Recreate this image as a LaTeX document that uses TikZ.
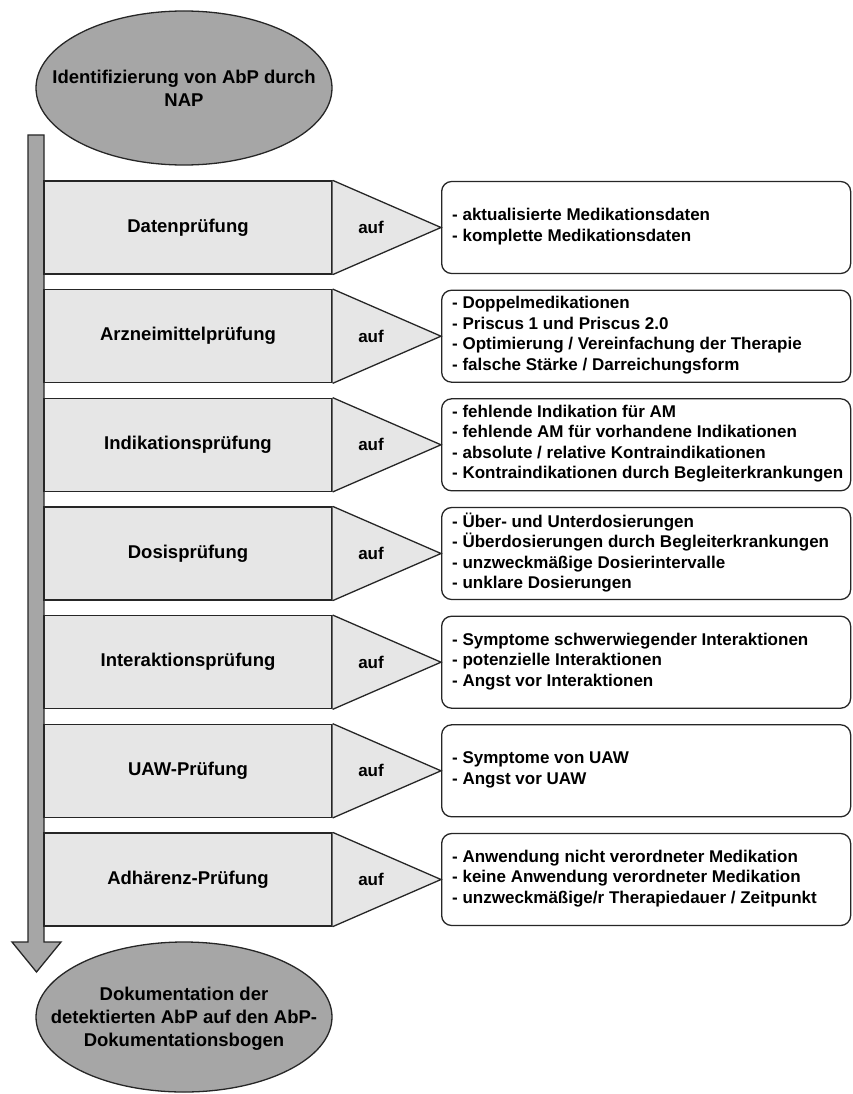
\documentclass[tikz,border=0pt]{standalone}
\usepackage{fontspec}
\setmainfont{Liberation Sans}
\definecolor{ellfill}{HTML}{A6A6A6}
\definecolor{rectfill}{HTML}{E6E6E6}
\definecolor{edge}{HTML}{262626}
\tikzset{
  base/.style={draw=edge, line width=1.3pt},
  elltext/.style={align=center, inner sep=0pt, font=\fontsize{18.5}{23}\selectfont\bfseries},
  steplabel/.style={base, rectangle, fill=rectfill, minimum width=288pt, minimum height=93pt, inner sep=0pt, font=\fontsize{18.5}{22}\selectfont\bfseries},
  auftext/.style={inner sep=0pt, font=\fontsize{17}{20}\selectfont\bfseries},
  listbox/.style={base, rounded corners=10pt, fill=white, minimum width=409pt, minimum height=92pt, inner sep=0pt, anchor=west},
  listtext/.style={align=left, anchor=west, inner sep=0pt, font=\fontsize{17}{20.5}\selectfont\bfseries},
  tri/.style={base, fill=rectfill, line join=miter},
}
\begin{document}
\begin{tikzpicture}[x=1pt,y=-1pt]
\useasboundingbox (0,0) rectangle (852,1094);
% vertical block arrow
\coordinate (atop) at (36,135);
\coordinate (atip) at (36.5,972);
\draw[base, fill=ellfill, line join=miter] (28,135) -- (44,135) -- (44,942) -- (61,942) -- (atip) -- (12,942) -- (28,942) -- cycle;
% top ellipse
\draw[base, fill=ellfill] (184,88) ellipse [x radius=148, y radius=77];
\node[elltext] (start) at (184,88) {Identifizierung von AbP durch\\NAP};
% bottom ellipse
\draw[base, fill=ellfill] (184,1017) ellipse [x radius=148, y radius=75];
\node[elltext] (ende) at (184,1019) {Dokumentation der\\detektierten AbP auf den AbP-\\Dokumentationsbogen};

% row 1
\node[steplabel] (r1) at (188,227.5) {Datenprüfung};
\node[listbox] (b1) at (441,227.5) {};
\node[listtext] (t1) at (452,226.5) {- aktualisierte Medikationsdaten\\- komplette Medikationsdaten};
\draw[tri] (r1.north east) -- (b1.west) -- (r1.south east);
\node[auftext] (a1) at (371,227.5) {auf};
% row 2
\node[steplabel] (r2) at (188,336.2) {Arzneimittelprüfung};
\node[listbox] (b2) at (441,336.2) {};
\node[listtext] (t2) at (452,335.2) {- Doppelmedikationen\\- Priscus 1 und Priscus 2.0\\- Optimierung / Vereinfachung der Therapie\\- falsche Stärke / Darreichungsform};
\draw[tri] (r2.north east) -- (b2.west) -- (r2.south east);
\node[auftext] (a2) at (371,336.2) {auf};
% row 3
\node[steplabel] (r3) at (188,444.8) {Indikationsprüfung};
\node[listbox] (b3) at (441,444.8) {};
\node[listtext] (t3) at (452,443.8) {- fehlende Indikation für AM\\- fehlende AM für vorhandene Indikationen\\- absolute / relative Kontraindikationen\\- Kontraindikationen durch Begleiterkrankungen};
\draw[tri] (r3.north east) -- (b3.west) -- (r3.south east);
\node[auftext] (a3) at (371,444.8) {auf};
% row 4
\node[steplabel] (r4) at (188,553.5) {Dosisprüfung};
\node[listbox] (b4) at (441,553.5) {};
\node[listtext] (t4) at (452,552.5) {- Über- und Unterdosierungen\\- Überdosierungen durch Begleiterkrankungen\\- unzweckmäßige Dosierintervalle\\- unklare Dosierungen};
\draw[tri] (r4.north east) -- (b4.west) -- (r4.south east);
\node[auftext] (a4) at (371,553.5) {auf};
% row 5
\node[steplabel] (r5) at (188,662.2) {Interaktionsprüfung};
\node[listbox] (b5) at (441,662.2) {};
\node[listtext] (t5) at (452,661.2) {- Symptome schwerwiegender Interaktionen\\- potenzielle Interaktionen\\- Angst vor Interaktionen};
\draw[tri] (r5.north east) -- (b5.west) -- (r5.south east);
\node[auftext] (a5) at (371,662.2) {auf};
% row 6
\node[steplabel] (r6) at (188,770.8) {UAW-Prüfung};
\node[listbox] (b6) at (441,770.8) {};
\node[listtext] (t6) at (452,769.8) {- Symptome von UAW\\- Angst vor UAW};
\draw[tri] (r6.north east) -- (b6.west) -- (r6.south east);
\node[auftext] (a6) at (371,770.8) {auf};
% row 7
\node[steplabel] (r7) at (188,879.5) {Adhärenz-Prüfung};
\node[listbox] (b7) at (441,879.5) {};
\node[listtext] (t7) at (452,878.5) {- Anwendung nicht verordneter Medikation\\- keine Anwendung verordneter Medikation\\- unzweckmäßige/r Therapiedauer / Zeitpunkt};
\draw[tri] (r7.north east) -- (b7.west) -- (r7.south east);
\node[auftext] (a7) at (371,879.5) {auf};
\end{tikzpicture}
\end{document}
